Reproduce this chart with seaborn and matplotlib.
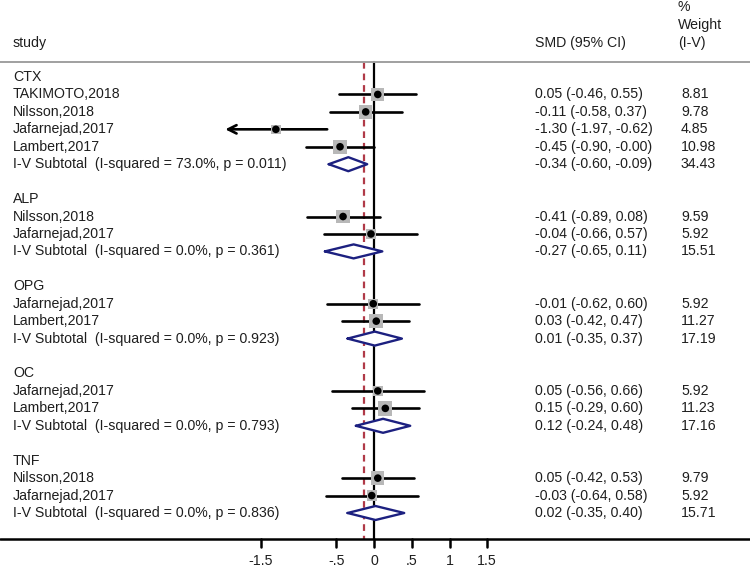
import numpy as np
import pandas as pd
import seaborn as sns
from matplotlib import pyplot as plt

# ---- data ----
groups = ['CTX', 'ALP', 'OPG', 'OC', 'TNF']

study_group = ['CTX', 'CTX', 'CTX', 'CTX', 'ALP', 'ALP', 'OPG', 'OPG', 'OC', 'OC', 'TNF', 'TNF']
study_names = ['TAKIMOTO,2018', 'Nilsson,2018', 'Jafarnejad,2017', 'Lambert,2017',
               'Nilsson,2018', 'Jafarnejad,2017',
               'Jafarnejad,2017', 'Lambert,2017',
               'Jafarnejad,2017', 'Lambert,2017',
               'Nilsson,2018', 'Jafarnejad,2017']
smd = [0.05, -0.11, -1.30, -0.45, -0.41, -0.04, -0.01, 0.03, 0.05, 0.15, 0.05, -0.03]
ci_lo = [-0.46, -0.58, -1.97, -0.90, -0.89, -0.66, -0.62, -0.42, -0.56, -0.29, -0.42, -0.64]
ci_hi = [0.55, 0.37, -0.62, -0.004, 0.08, 0.57, 0.60, 0.47, 0.66, 0.60, 0.53, 0.58]
weight = [8.81, 9.78, 4.85, 10.98, 9.59, 5.92, 5.92, 11.27, 5.92, 11.23, 9.79, 5.92]

sub_smd = [-0.34, -0.27, 0.01, 0.12, 0.02]
sub_lo = [-0.60, -0.65, -0.35, -0.24, -0.35]
sub_hi = [-0.09, 0.11, 0.37, 0.48, 0.40]
sub_weight = [34.43, 15.51, 17.19, 17.16, 15.71]
sub_i2 = [73.0, 0.0, 0.0, 0.0, 0.0]
sub_p = [0.011, 0.361, 0.923, 0.793, 0.836]

overall = -0.13
tick_vals = [-1.5, -0.5, 0, 0.5, 1, 1.5]
tick_text = ['-1.5', '-.5', '0', '.5', '1', '1.5']

# ---- layout (pixel geometry of the 750x568 picture) ----
W, H = 750, 568
PX_UNIT = 75.5      # pixels per SMD unit
X0 = 374            # pixel of SMD = 0
Y0 = 77             # pixel of the first row
ROW = 17.44         # row height in pixels


def px_x(p):
    return (p - X0) / PX_UNIT


def px_y(p):
    return (p - Y0) / ROW


df = pd.DataFrame({'group': study_group, 'study': study_names, 'smd': smd,
                   'lo': ci_lo, 'hi': ci_hi, 'weight': weight})

# assign rows: group title, studies, subtotal, blank line
row = 0
title_rows, sub_rows, study_rows = [], [], []
for g in groups:
    title_rows.append(row)
    row += 1
    for i in df.index[df['group'] == g]:
        study_rows.append(row)
        row += 1
    sub_rows.append(row)
    row += 2
df['row'] = study_rows

sns.set_theme(style='white')
plt.rcParams['font.family'] = ['Liberation Sans', 'DejaVu Sans']
txt_color = '#1e1e1e'
fs = 10.2

fig = plt.figure(figsize=(W / 100, H / 100), dpi=100)
ax = fig.add_axes([0, 0, 1, 1])
ax.set_xlim(px_x(0), px_x(W))
ax.set_ylim(px_y(H), px_y(0))
ax.axis('off')

top_line = px_y(62)
axis_y = px_y(539)

# header
ax.text(px_x(13), px_y(43), 'study', fontsize=fs, color=txt_color, va='center')
ax.text(px_x(535), px_y(43), 'SMD (95% CI)', fontsize=fs, color=txt_color, va='center')
ax.text(px_x(678), px_y(7), '%', fontsize=fs, color=txt_color, va='center')
ax.text(px_x(678), px_y(25), 'Weight', fontsize=fs, color=txt_color, va='center')
ax.text(px_x(678), px_y(43), '(I-V)', fontsize=fs, color=txt_color, va='center')
ax.axhline(top_line, color='#a0a0a0', lw=1.4)

# reference lines
ax.plot([0, 0], [top_line, axis_y], color='black', lw=1.6, zorder=1)
ax.plot([overall, overall], [top_line, axis_y], color='#b03a48', lw=1.6,
        dashes=(3, 2.2), zorder=1)

# study CIs
for _, r in df.iterrows():
    if r['lo'] < min(tick_vals):
        ax.annotate('', xy=(r['lo'], r['row']), xytext=(r['hi'], r['row']),
                    arrowprops=dict(arrowstyle='->', lw=1.9, color='black',
                                    mutation_scale=15, shrinkA=0, shrinkB=0))
    else:
        ax.plot([r['lo'], r['hi']], [r['row'], r['row']], color='black', lw=1.9, zorder=2)

# weight boxes and point estimates
sns.scatterplot(data=df, x='smd', y='row', marker='s', s=df['weight'] * 9.5,
                color='#b8b8b8', edgecolor='none', ax=ax, zorder=3, legend=False)
sns.scatterplot(data=df, x='smd', y='row', marker='o', s=30,
                color='black', edgecolor='none', ax=ax, zorder=4, legend=False)

# subtotal diamonds
half_h = 7 / ROW
for k, rr in enumerate(sub_rows):
    xs = [sub_lo[k], sub_smd[k], sub_hi[k], sub_smd[k], sub_lo[k]]
    ys = [rr, rr - half_h, rr, rr + half_h, rr]
    ax.fill(xs, ys, color='white', zorder=4)
    ax.plot(xs, ys, color='#1c2080', lw=1.7, zorder=5)

# text columns
for k, g in enumerate(groups):
    ax.text(px_x(13), title_rows[k], g, fontsize=fs, color=txt_color, va='center')
    ax.text(px_x(13), sub_rows[k],
            f'I-V Subtotal  (I-squared = {sub_i2[k]:.1f}%, p = {sub_p[k]:.3f})',
            fontsize=fs, color=txt_color, va='center')
    ax.text(px_x(535), sub_rows[k],
            f'{sub_smd[k]:.2f} ({sub_lo[k]:.2f}, {sub_hi[k]:.2f})',
            fontsize=fs, color=txt_color, va='center')
    ax.text(px_x(681), sub_rows[k], f'{sub_weight[k]:.2f}',
            fontsize=fs, color=txt_color, va='center')

for _, r in df.iterrows():
    ax.text(px_x(13), r['row'], r['study'], fontsize=fs, color=txt_color, va='center')
    ax.text(px_x(535), r['row'], f"{r['smd']:.2f} ({r['lo']:.2f}, {r['hi']:.2f})",
            fontsize=fs, color=txt_color, va='center')
    ax.text(px_x(681), r['row'], f"{r['weight']:.2f}",
            fontsize=fs, color=txt_color, va='center')

# x axis
ax.axhline(axis_y, color='black', lw=1.8)
for v, t in zip(tick_vals, tick_text):
    ax.plot([v, v], [axis_y, px_y(547)], color='black', lw=1.8)
    ax.text(v, px_y(561), t, fontsize=fs, color=txt_color, ha='center', va='center')

fig.savefig('out.png', dpi=100)
